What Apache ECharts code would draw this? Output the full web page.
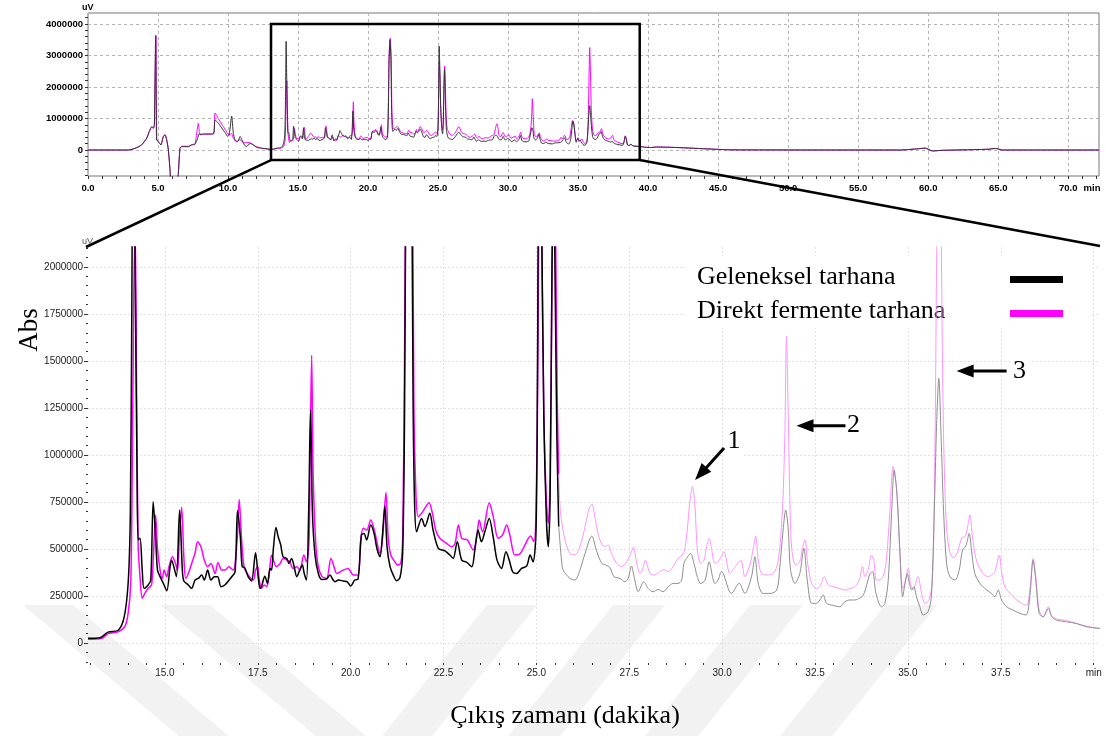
<!DOCTYPE html>
<html><head><meta charset="utf-8">
<script src="https://cdn.jsdelivr.net/npm/echarts@6/dist/echarts.min.js"></script>
<style>html,body{margin:0;padding:0;background:#fff}#c{width:1106px;height:736px}</style>
</head><body><div id="c"></div>
<script>
// ---- data (time in min, signal in uV) ----
const gelenekselEarly = [[0,0],[2.9,0],[3.36,53000],[3.83,160000],[4.19,373000],[4.38,585000],[4.55,745000],[4.67,700000],[4.74,800000],[4.79,2500000],[4.83,3620000],[4.87,1500000],[4.9,320000],[5.02,266000],[5.21,160000],[5.38,426000],[5.5,480000],[5.62,320000],[5.74,0],[5.86,-640000],[5.95,-1100000],[6.35,-1100000],[6.45,-745000],[6.57,53000],[6.69,106000],[7.17,106000],[7.4,160000],[7.64,180000],[7.83,373000],[7.93,510000],[8.07,480000],[8.24,510000],[8.95,510000],[9.07,960000],[9.31,850000],[9.55,700000],[9.79,550000],[9.98,430000],[10.09,500000],[10.26,1080000],[10.38,530000],[10.5,320000],[10.69,270000],[10.86,430000],[10.98,340000],[11.17,160000],[11.33,110000],[11.57,210000],[11.81,160000],[12.05,85000],[12.4,53000],[12.8,40000]];
const direktEarly = [[0,0],[2.9,0],[3.36,53000],[3.83,170000],[4.19,380000],[4.38,600000],[4.55,720000],[4.67,690000],[4.74,780000],[4.8,2500000],[4.85,3650000],[4.89,1400000],[4.92,320000],[5.02,266000],[5.21,170000],[5.38,440000],[5.5,490000],[5.62,320000],[5.74,0],[5.86,-640000],[5.95,-1100000],[6.35,-1100000],[6.45,-745000],[6.57,53000],[6.69,120000],[7.17,120000],[7.4,170000],[7.64,200000],[7.78,600000],[7.88,850000],[7.98,520000],[8.24,500000],[8.95,510000],[9.07,1170000],[9.31,1000000],[9.55,820000],[9.79,660000],[10.07,480000],[10.26,520000],[10.38,370000],[10.6,260000],[10.86,330000],[11.1,230000],[11.5,240000],[12.0,110000],[12.4,60000],[12.8,30000]];
const gelenekselMain = [[12.93,25000],[13.25,28000],[13.47,58000],[13.74,68000],[13.88,120000],[13.97,225000],[14.03,390000],[14.07,700000],[14.11,1800000],[14.15,3450000],[14.2,2000000],[14.25,900000],[14.28,548000],[14.33,557000],[14.39,388000],[14.44,291000],[14.55,309000],[14.62,335000],[14.685,752000],[14.75,565000],[14.8,388000],[14.87,353000],[14.96,317000],[15.05,278000],[15.14,406000],[15.18,441000],[15.24,406000],[15.31,353000],[15.395,707000],[15.47,388000],[15.51,330000],[15.63,309000],[15.72,291000],[15.81,335000],[15.9,344000],[15.99,362000],[16.06,335000],[16.15,388000],[16.24,335000],[16.33,353000],[16.42,353000],[16.51,300000],[16.62,310000],[16.8,353000],[16.89,380000],[16.955,705000],[17.03,565000],[17.08,406000],[17.15,400000],[17.24,353000],[17.33,330000],[17.44,480000],[17.51,353000],[17.56,291000],[17.6,300000],[17.69,355000],[17.76,317000],[17.83,397000],[17.87,388000],[17.92,503000],[17.99,615000],[18.05,565000],[18.12,520000],[18.18,459000],[18.28,450000],[18.34,423000],[18.41,450000],[18.48,406000],[18.55,353000],[18.63,388000],[18.7,415000],[18.75,370000],[18.81,335000],[18.87,700000],[18.92,1240000],[18.97,700000],[19.04,470000],[19.13,370000],[19.23,338000],[19.35,340000],[19.44,362000],[19.53,335000],[19.58,326000],[19.67,335000],[19.8,330000],[19.91,326000],[20.0,303000],[20.11,335000],[20.2,340000],[20.29,574000],[20.36,583000],[20.43,548000],[20.54,628000],[20.63,583000],[20.71,500000],[20.79,459000],[20.85,560000],[20.92,729000],[20.98,510000],[21.06,406000],[21.15,360000],[21.24,331000],[21.33,350000],[21.4,480000],[21.45,1200000],[21.5,2800000],[21.57,3500000],[21.63,2900000],[21.68,1300000],[21.72,750000],[21.775,592000],[21.91,663000],[22.0,620000],[22.13,690000],[22.22,600000],[22.36,504000],[22.54,490000],[22.67,468000],[22.76,450000],[22.87,539000],[22.99,441000],[23.12,430000],[23.26,406000],[23.34,490000],[23.43,601000],[23.52,539000],[23.61,590000],[23.73,663000],[23.84,560000],[23.94,441000],[24.06,397000],[24.18,485000],[24.27,440000],[24.36,379000],[24.47,370000],[24.6,397000],[24.74,410000],[24.83,468000],[24.91,432000],[24.99,600000],[25.03,1500000],[25.08,3300000],[25.13,2500000],[25.2,1200000],[25.27,650000],[25.32,512000],[25.37,800000],[25.42,2000000],[25.46,2560000],[25.51,1800000],[25.55,1100000],[25.6,620000],[25.68,430000],[25.72,388000],[25.9,344000],[26.04,335000],[26.17,388000],[26.31,477000],[26.49,569000],[26.62,490000],[26.76,424000],[26.87,415000],[26.98,400000],[27.09,353000],[27.25,344000],[27.38,326000],[27.47,344000],[27.56,410000],[27.63,353000],[27.74,273000],[27.89,326000],[28.01,290000],[28.14,273000],[28.28,285000],[28.41,273000],[28.55,300000],[28.68,317000],[28.81,317000],[28.91,335000],[28.97,424000],[29.04,450000],[29.15,477000],[29.24,424000],[29.33,353000],[29.42,317000],[29.54,335000],[29.65,432000],[29.74,353000],[29.8,317000],[29.89,335000],[29.98,380000],[30.03,370000],[30.25,264000],[30.46,318000],[30.61,264000],[30.79,353000],[30.88,459000],[30.97,318000],[31.1,264000],[31.29,264000],[31.47,282000],[31.55,400000],[31.64,601000],[31.71,707000],[31.78,601000],[31.84,390000],[31.96,317000],[32.09,370000],[32.2,504000],[32.29,335000],[32.41,211000],[32.54,211000],[32.63,229000],[32.72,255000],[32.81,211000],[32.99,200000],[33.17,193000],[33.3,220000],[33.44,229000],[33.57,229000],[33.71,240000],[33.8,255000],[33.89,310000],[33.98,370000],[34.05,380000],[34.14,264000],[34.29,193000],[34.38,211000],[34.47,335000],[34.56,690000],[34.63,920000],[34.71,780000],[34.78,500000],[34.86,246000],[34.92,317000],[34.98,370000],[35.04,317000],[35.1,282000],[35.16,300000],[35.23,246000],[35.32,193000],[35.41,149000],[35.54,167000],[35.63,246000],[35.72,780000],[35.77,1150000],[35.83,1408000],[35.9,1050000],[35.96,700000],[36.04,424000],[36.13,353000],[36.27,335000],[36.38,388000],[36.47,495000],[36.56,516000],[36.65,583000],[36.71,495000],[36.8,370000],[36.94,317000],[37.12,282000],[37.25,264000],[37.34,246000],[37.43,282000],[37.52,229000],[37.66,193000],[37.83,175000],[38.01,158000],[38.18,149000],[38.28,246000],[38.37,441000],[38.45,317000],[38.53,158000],[38.64,140000],[38.78,184000],[38.87,140000],[39.0,122000],[39.27,113000],[39.54,104000],[39.81,86000],[40.17,78000]];
const direktMain = [[12.93,20000],[13.3,25000],[13.47,50000],[13.74,60000],[13.92,87000],[14.01,158000],[14.08,317000],[14.12,900000],[14.16,1800000],[14.2,2200000],[14.24,1300000],[14.28,521000],[14.33,353000],[14.39,238000],[14.46,264000],[14.55,291000],[14.64,309000],[14.69,460000],[14.75,681000],[14.8,503000],[14.87,388000],[14.93,344000],[14.98,388000],[15.05,353000],[15.11,406000],[15.2,459000],[15.27,432000],[15.34,388000],[15.39,560000],[15.45,722000],[15.51,459000],[15.56,344000],[15.63,370000],[15.72,423000],[15.81,477000],[15.88,539000],[15.97,512000],[16.06,441000],[16.15,406000],[16.24,423000],[16.35,370000],[16.43,429000],[16.53,388000],[16.62,388000],[16.72,406000],[16.84,388000],[16.88,406000],[16.95,565000],[17.0,764000],[17.06,565000],[17.13,406000],[17.24,362000],[17.38,335000],[17.44,388000],[17.5,406000],[17.53,353000],[17.6,291000],[17.67,309000],[17.74,300000],[17.8,353000],[17.87,468000],[17.92,441000],[18.0,406000],[18.1,423000],[18.18,450000],[18.28,441000],[18.36,432000],[18.45,397000],[18.55,406000],[18.63,388000],[18.74,468000],[18.81,432000],[18.88,550000],[18.91,1000000],[18.95,1530000],[18.99,900000],[19.06,530000],[19.13,406000],[19.23,353000],[19.35,344000],[19.47,450000],[19.58,388000],[19.62,370000],[19.8,388000],[19.93,397000],[20.07,362000],[20.2,362000],[20.27,548000],[20.34,610000],[20.43,600000],[20.54,655000],[20.65,590000],[20.79,477000],[20.86,560000],[20.95,800000],[21.01,560000],[21.08,468000],[21.19,432000],[21.26,415000],[21.35,425000],[21.4,560000],[21.45,1500000],[21.5,3000000],[21.58,3550000],[21.65,3000000],[21.7,1300000],[21.76,778000],[21.82,672000],[21.91,690000],[21.97,708000],[22.11,746000],[22.2,690000],[22.29,600000],[22.4,557000],[22.58,530000],[22.72,512000],[22.81,530000],[22.9,628000],[22.99,557000],[23.14,548000],[23.3,495000],[23.39,560000],[23.46,654000],[23.55,590000],[23.73,746000],[23.84,670000],[23.97,557000],[24.09,575000],[24.2,628000],[24.29,570000],[24.42,468000],[24.56,475000],[24.69,521000],[24.84,569000],[24.93,540000],[24.99,700000],[25.04,1500000],[25.09,2800000],[25.14,2200000],[25.2,1200000],[25.27,750000],[25.32,637000],[25.37,900000],[25.42,2000000],[25.47,2670000],[25.52,2100000],[25.56,1300000],[25.6,900000],[25.65,690000],[25.77,548000],[25.9,477000],[26.04,470000],[26.17,512000],[26.31,620000],[26.42,716000],[26.49,739000],[26.6,640000],[26.71,548000],[26.84,512000],[26.93,521000],[27.02,477000],[27.16,424000],[27.29,406000],[27.43,433000],[27.52,468000],[27.61,509000],[27.7,424000],[27.79,370000],[27.87,400000],[27.93,441000],[28.06,370000],[28.19,362000],[28.32,380000],[28.43,390000],[28.55,380000],[28.68,406000],[28.81,450000],[28.93,468000],[28.99,495000],[29.06,601000],[29.13,752000],[29.2,832000],[29.27,720000],[29.33,500000],[29.42,424000],[29.51,441000],[29.58,512000],[29.65,557000],[29.72,495000],[29.8,424000],[29.89,433000],[29.98,460000],[30.05,486000],[30.21,370000],[30.35,406000],[30.5,441000],[30.61,353000],[30.75,420000],[30.84,504000],[30.9,569000],[30.97,441000],[31.06,370000],[31.24,362000],[31.37,370000],[31.47,406000],[31.55,504000],[31.6,637000],[31.64,780000],[31.69,1133000],[31.73,1630000],[31.78,1200000],[31.82,780000],[31.87,504000],[31.98,415000],[32.09,433000],[32.16,504000],[32.23,548000],[32.3,424000],[32.41,317000],[32.54,290000],[32.63,300000],[32.75,353000],[32.86,308000],[32.99,300000],[33.17,290000],[33.3,282000],[33.44,290000],[33.57,300000],[33.69,335000],[33.78,406000],[33.84,353000],[33.93,390000],[34.02,468000],[34.08,441000],[34.15,335000],[34.22,335000],[34.33,353000],[34.42,441000],[34.51,690000],[34.6,938000],[34.69,830000],[34.78,500000],[34.86,290000],[34.92,317000],[35.01,397000],[35.07,317000],[35.14,282000],[35.27,353000],[35.37,264000],[35.46,211000],[35.57,229000],[35.66,335000],[35.72,900000],[35.77,2000000],[35.83,3250000],[35.88,2500000],[35.93,1500000],[35.97,1000000],[36.04,610000],[36.13,480000],[36.22,453000],[36.33,480000],[36.45,560000],[36.54,566000],[36.6,610000],[36.67,681000],[36.74,560000],[36.83,450000],[36.98,380000],[37.16,353000],[37.25,362000],[37.34,380000],[37.46,468000],[37.52,380000],[37.61,300000],[37.75,264000],[37.93,229000],[38.06,211000],[38.2,200000],[38.28,282000],[38.37,450000],[38.45,335000],[38.53,176000],[38.64,140000],[38.78,193000],[38.87,146000],[39.0,128000],[39.27,120000],[39.54,104000],[39.81,90000],[40.17,78000]];
const lateTail = [[40.6,95000],[42,80000],[44.5,30000],[46,5000],[58,0],[59.3,40000],[59.8,60000],[60.3,-30000],[61,-10000],[62,0],[64.3,25000],[64.8,50000],[65.3,0],[72.2,0]];

// ---- ticks & labels ----
const seq = (a, b, s) => { const r = []; for (let v = a; v <= b + 1e-9; v += s) r.push(+v.toFixed(6)); return r; };
const topXMajor = [0,5,10,15,20,25,30,35,40,45,50,55,60,65,70];
const topXLabels = topXMajor.concat([71.7]);
const topXMinor = seq(0, 72, 1);
const topYMajor = [0,1000000,2000000,3000000,4000000];
const topYMinor = seq(-800000, 4200000, 200000);
const mainXMajor = [15,17.5,20,22.5,25,27.5,30,32.5,35,37.5,40];
const mainXMinor = seq(13, 40, 0.5);
const mainYMajor = seq(0, 2000000, 250000);
const mainYMinor = seq(-100000, 2100000, 50000);
const seriesNames = ['Geleneksel tarhana', 'Direkt fermente tarhana'];
const zoomBox = [13.07, 39.4, -320000, 4000000];   // t0, t1, vLow, vHigh
const arrowTips = [[29.27, 867000, '1'], [32.0, 1156000, '2'], [36.31, 1447000, '3']];
const solidEnd = 25.6;

const sans = '"Liberation Sans", Arial, sans-serif';
const serif = '"Liberation Serif", "Times New Roman", serif';

const chart = echarts.init(document.getElementById('c'), null, {renderer: 'canvas'});

function tickAxis(gridIndex, vals, min, max, pos, len) {
  return {type: 'value', gridIndex, min, max, position: pos,
    axisLine: {show: false, onZero: false}, axisLabel: {show: false},
    splitLine: {show: false},
    axisTick: {show: true, customValues: vals, length: len, lineStyle: {color: '#333', width: 1}}};
}

const base = {type: 'line', showSymbol: false, symbol: 'none', smooth: 0.3, animation: false, silent: true};

chart.setOption({
  animation: false,
  backgroundColor: '#fff',
  grid: [
    {left: 88, top: 13, width: 1011, height: 163, show: true, borderColor: '#777', borderWidth: 1, outerBoundsMode: 'none', containLabel: false},
    {left: 88, top: 247, width: 1012, height: 416, outerBoundsMode: 'none', containLabel: false}
  ],
  xAxis: [
    {type: 'value', gridIndex: 0, min: 0, max: 72.2, position: 'bottom',
      axisLine: {show: false, onZero: false},
      axisTick: {show: false, customValues: topXMajor},
      axisLabel: {customValues: topXLabels, margin: 7, color: '#000', fontFamily: sans, fontWeight: 'bold', fontSize: 9.5,
        formatter: v => v > 71 ? 'min' : v.toFixed(1)},
      splitLine: {show: true, lineStyle: {color: '#b4b4b4', type: [3, 3], width: 1}}},
    tickAxis(0, topXMinor, 0, 72.2, 'bottom', 3),
    {type: 'value', gridIndex: 1, min: 12.93, max: 40.17, position: 'bottom',
      axisLine: {show: false, onZero: false},
      axisTick: {show: false, customValues: mainXMajor},
      axisLabel: {customValues: mainXMajor, margin: 5, color: '#222', fontFamily: sans, fontSize: 10,
        formatter: v => v >= 40 ? 'min' : v.toFixed(1)},
      splitLine: {show: true, lineStyle: {color: '#e2e2e2', type: [2, 2], width: 1}}},
    tickAxis(1, mainXMinor, 12.93, 40.17, 'bottom', 2)
  ],
  yAxis: [
    {type: 'value', gridIndex: 0, min: -825000, max: 4350000, position: 'left',
      axisLine: {show: false, onZero: false},
      axisTick: {show: false, customValues: topYMajor},
      axisLabel: {customValues: topYMajor, margin: 5, color: '#000', fontFamily: sans, fontWeight: 'bold', fontSize: 9.5,
        formatter: v => String(v)},
      splitLine: {show: true, lineStyle: {color: '#b4b4b4', type: [3, 3], width: 1}}},
    tickAxis(0, topYMinor, -825000, 4350000, 'left', 3),
    {type: 'value', gridIndex: 1, min: -106000, max: 2106000, position: 'left',
      axisLine: {show: false, onZero: false},
      axisTick: {show: true, customValues: mainYMajor, length: 4, lineStyle: {color: '#333'}},
      axisLabel: {customValues: mainYMajor, margin: 5, color: '#222', fontFamily: sans, fontSize: 10,
        formatter: v => String(v)},
      splitLine: {show: true, lineStyle: {color: '#e2e2e2', type: [2, 2], width: 1}}},
    tickAxis(1, mainYMinor, -106000, 2106000, 'left', 2)
  ],
  series: [
    {...base, name: seriesNames[1], xAxisIndex: 0, yAxisIndex: 0, smooth: 0.2,
      data: direktEarly.concat(direktMain, lateTail), lineStyle: {color: '#ff00ff', width: 1}},
    {...base, name: seriesNames[0], xAxisIndex: 0, yAxisIndex: 0, smooth: 0.2,
      data: gelenekselEarly.concat(gelenekselMain, lateTail), lineStyle: {color: '#333', width: 1}},
    {...base, name: seriesNames[1], xAxisIndex: 2, yAxisIndex: 2,
      data: direktMain.filter(p => p[0] >= solidEnd), lineStyle: {color: '#ff94ff', width: 1}},
    {...base, name: seriesNames[0], xAxisIndex: 2, yAxisIndex: 2,
      data: gelenekselMain.filter(p => p[0] >= solidEnd), lineStyle: {color: '#8e8e8e', width: 1}},
    {...base, name: seriesNames[1], xAxisIndex: 2, yAxisIndex: 2,
      data: direktMain.filter(p => p[0] <= solidEnd), lineStyle: {color: '#ff00ff', width: 1.5}},
    {...base, name: seriesNames[0], xAxisIndex: 2, yAxisIndex: 2,
      data: gelenekselMain.filter(p => p[0] <= solidEnd), lineStyle: {color: '#000', width: 1.5}}
  ]
});

// ---- annotations (positioned through the axes) ----
const topPx = (t, v) => chart.convertToPixel({xAxisIndex: 0, yAxisIndex: 0}, [t, v]);
const mainPx = (t, v) => chart.convertToPixel({xAxisIndex: 2, yAxisIndex: 2}, [t, v]);
const g = [];

// watermark bands (background)
const wm = [[23,73,1.19],[160,210,1.19],[487,537,-0.8],[613,665,-0.8],[750,803,-0.8],[885,937,-0.8]];
wm.forEach(([a, b, s]) => {
  const h = 131;
  g.push({type: 'polygon', z: -5, silent: true,
    shape: {points: [[a, 605], [b, 605], [b + s * h, 736], [a + s * h, 736]]},
    style: {fill: '#f2f2f2'}});
});

// zoom box + connectors
const bl = topPx(zoomBox[0], zoomBox[2]), tr = topPx(zoomBox[1], zoomBox[3]);
g.push({type: 'rect', z: 10, silent: true, shape: {x: bl[0], y: tr[1], width: tr[0] - bl[0], height: bl[1] - tr[1]},
  style: {fill: 'none', stroke: '#000', lineWidth: 2.5}});
const mTL = mainPx(12.93, 2106000), mTR = mainPx(40.17, 2106000);
g.push({type: 'line', z: 10, silent: true, shape: {x1: bl[0], y1: bl[1], x2: mTL[0] - 2, y2: mTL[1]}, style: {stroke: '#000', lineWidth: 2.5}});
g.push({type: 'line', z: 10, silent: true, shape: {x1: tr[0], y1: bl[1], x2: mTR[0], y2: mTR[1] - 1}, style: {stroke: '#000', lineWidth: 2.5}});

// unit labels
g.push({type: 'text', z: 10, style: {text: 'uV', x: 82, y: 8, font: 'bold 9px ' + sans, fill: '#000', verticalAlign: 'middle'}});
g.push({type: 'text', z: 10, style: {text: 'uV', x: 82, y: 242, font: '9px ' + sans, fill: '#555', verticalAlign: 'middle'}});

// axis titles
g.push({type: 'text', z: 10, rotation: Math.PI / 2, x: 30, y: 330,
  style: {text: 'Abs', x: 0, y: 0, font: '27px ' + serif, fill: '#000', align: 'center', verticalAlign: 'middle'}});
g.push({type: 'text', z: 10, style: {text: 'Çıkış zamanı (dakika)', x: 565, y: 716, font: '26px ' + serif, fill: '#000', align: 'center', verticalAlign: 'middle'}});

// legend
g.push({type: 'rect', z: 1, silent: true, shape: {x: 685, y: 256, width: 405, height: 72}, style: {fill: '#fff'}});
g.push({type: 'text', z: 1, style: {text: seriesNames[0], x: 697, y: 277, font: '26px ' + serif, fill: '#000', verticalAlign: 'middle'}});
g.push({type: 'text', z: 1, style: {text: seriesNames[1], x: 697, y: 311, font: '26px ' + serif, fill: '#000', verticalAlign: 'middle'}});
g.push({type: 'rect', z: 1, shape: {x: 1010, y: 276, width: 53, height: 7}, style: {fill: '#000'}});
g.push({type: 'rect', z: 1, shape: {x: 1010, y: 310, width: 53, height: 7}, style: {fill: '#ff00ff'}});

// arrows
function arrow(tip, tail, label, lx, ly) {
  const dx = tip[0] - tail[0], dy = tip[1] - tail[1];
  const L = Math.hypot(dx, dy), ux = dx / L, uy = dy / L;
  const hl = 17, hw = 6.5;
  const bx = tip[0] - ux * hl, by = tip[1] - uy * hl;
  g.push({type: 'line', z: 10, silent: true, shape: {x1: tail[0], y1: tail[1], x2: bx + ux * 2, y2: by + uy * 2}, style: {stroke: '#000', lineWidth: 3}});
  g.push({type: 'polygon', z: 10, silent: true,
    shape: {points: [[tip[0], tip[1]], [bx - uy * hw, by + ux * hw], [bx + uy * hw, by - ux * hw]]}, style: {fill: '#000'}});
  g.push({type: 'text', z: 9, style: {text: label, x: lx, y: ly, font: '26px ' + serif, fill: '#000', align: 'center', verticalAlign: 'middle',
    backgroundColor: '#fff', padding: [2, 3]}});
}
const p1 = mainPx(arrowTips[0][0], arrowTips[0][1]);
arrow(p1, [p1[0] + 29, p1[1] - 32], arrowTips[0][2], p1[0] + 39, p1[1] - 39);
const p2 = mainPx(arrowTips[1][0], arrowTips[1][1]);
arrow(p2, [p2[0] + 49, p2[1]], arrowTips[1][2], p2[0] + 57, p2[1]);
const p3 = mainPx(arrowTips[2][0], arrowTips[2][1]);
arrow(p3, [p3[0] + 50, p3[1]], arrowTips[2][2], p3[0] + 63, p3[1]);

chart.setOption({graphic: {elements: g}});
</script>
</body></html>
